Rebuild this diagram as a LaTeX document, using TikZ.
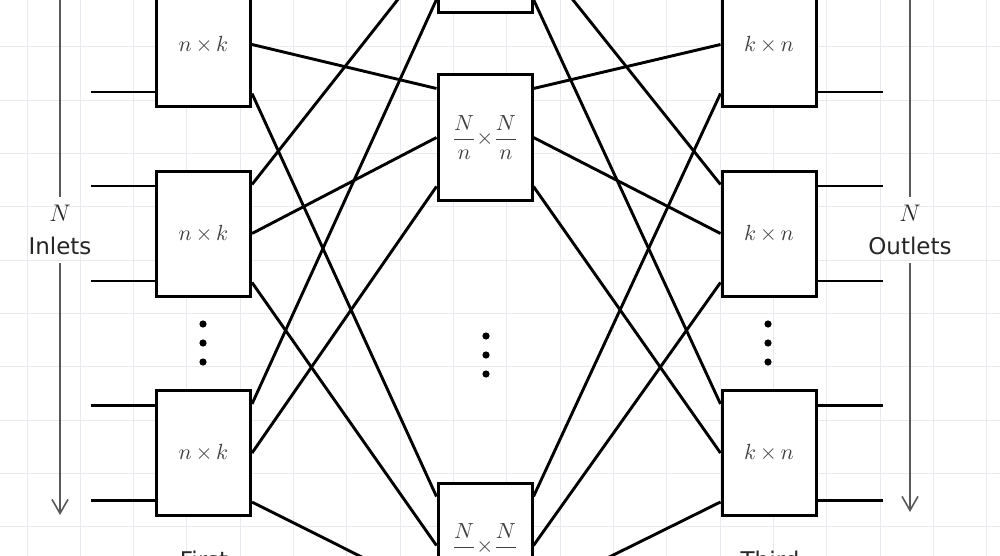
\documentclass[tikz,border=0pt]{standalone}
\usepackage{fontspec}
\setsansfont{DejaVu Sans}
\usetikzlibrary{calc,arrows.meta}
\definecolor{gridc}{RGB}{232,234,240}
\begin{document}
\begin{tikzpicture}[x=0.5pt,y=-0.5pt,
  sw/.style={draw=black,line width=1.5pt,fill=white,minimum width=47pt,minimum height=62.5pt,inner sep=0pt,font=\fontsize{10.5}{12}\selectfont,text=black!75},
  wire/.style={line width=1.45pt,black},
  lab/.style={font=\fontsize{11.5}{16.5}\selectfont\sffamily,align=center,text=black!85,inner sep=4pt},
  dim/.style={line width=0.8pt,black!65},
  gridline/.style={line width=0.5pt,gridc}]
\useasboundingbox (0,0) rectangle (1000,556);
\clip (0,0) rectangle (1000,556);
\fill[white] (0,0) rectangle (1000,556);
% faint grid
\foreach \g in {0,...,18}{
  \draw[gridline] ({27+53.33*\g},0) -- ++(0,556);
}
\foreach \g in {0,...,10}{
  \draw[gridline] (0,{47+53.33*\g}) -- ++(1000,0);
}
% switches
\node[sw] (L1) at (203.5,44.5) {$n\,{\times}\,k$};
\node[sw] (L2) at (203.5,233.5) {$n\,{\times}\,k$};
\node[sw] (L3) at (203.5,453) {$n\,{\times}\,k$};
\node[sw] (M1) at (485,-49.5) {};
\node[sw] (M2) at (485,137.5) {$\displaystyle\frac{N}{n}{\times}\frac{N}{n}$};
\node[sw] (M3) at (485,545.5) {$\displaystyle\frac{N}{n}{\times}\frac{N}{n}$};
\node[sw] (R1) at (769,44.5) {$k\,{\times}\,n$};
\node[sw] (R2) at (769,233.5) {$k\,{\times}\,n$};
\node[sw] (R3) at (769,453) {$k\,{\times}\,n$};
% interstage links
\foreach \i in {1,2,3}{
  \foreach \j in {1,2,3}{
    \draw[wire] ($(L\i.east)+(0,{(\j-2)*49})$) -- ($(M\j.west)+(0,{(\i-2)*49})$);
    \draw[wire] ($(M\j.east)+(0,{(\i-2)*49})$) -- ($(R\i.west)+(0,{(\j-2)*49})$);
  }
}
% inlets / outlets
\foreach \b in {L1,L2,L3}{
  \draw[wire] ($(\b.west)+(0,-47.5)$) -- ++(-64,0);
  \draw[wire] ($(\b.west)+(0,47.5)$) -- ++(-64,0);
}
\foreach \b in {R1,R2,R3}{
  \draw[wire] ($(\b.east)+(0,-47.5)$) -- ++(65,0);
  \draw[wire] ($(\b.east)+(0,47.5)$) -- ++(65,0);
}
% dots
\foreach \x in {203,486,768}{
  \pgfmathsetmacro{\yo}{\x==486 ? 12 : 0}
  \foreach \d in {0,1,2}{
    \fill ({\x},{324+\yo+19*\d}) circle (3.6);
  }
}
% side arrows
\coordinate (la1) at (60,-20);
\coordinate (la2) at (60,515);
\coordinate (ra1) at (910,-20);
\coordinate (ra2) at (910,512);
\node[lab] (inl) at (60,230) {$N$\\Inlets};
\node[lab] (outl) at (910,230) {$N$\\Outlets};
\draw[dim] (la1) -- (inl.north);
\draw[dim,-{Straight Barb[length=7pt,width=8pt]}] (inl.south) -- (la2);
\draw[dim] (ra1) -- (outl.north);
\draw[dim,-{Straight Barb[length=7pt,width=8pt]}] (outl.south) -- (ra2);
% stage captions (cut off)
\node[lab,anchor=base,inner sep=0pt] (first) at (204,568) {First};
\node[lab,anchor=base,inner sep=0pt] (third) at (770,568) {Third};
\end{tikzpicture}
\end{document}
